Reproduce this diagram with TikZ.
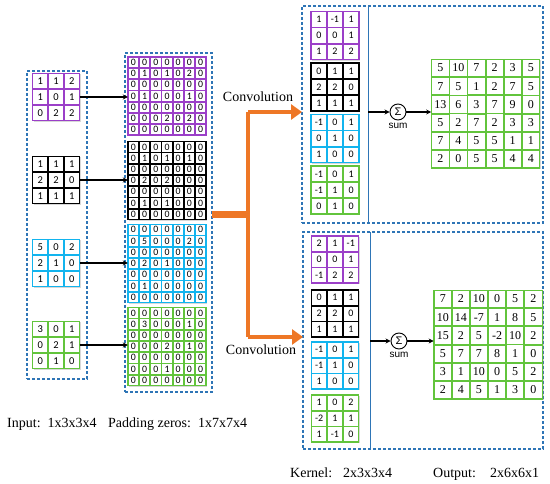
\documentclass[tikz,border=0pt]{standalone}
\usepackage{fontspec}
\setmainfont{Liberation Serif}
\newfontfamily\carlito{Carlito}
\newfontfamily\arialf{Liberation Sans}
\usetikzlibrary{matrix,arrows.meta,shadows}
\definecolor{kpurple}{HTML}{9B3FC8}
\definecolor{kcyan}{HTML}{12B4EE}
\definecolor{kgreen}{HTML}{62C43C}
\definecolor{kblue}{HTML}{2E75B6}
\definecolor{korange}{HTML}{EE7726}
\newcommand\fntin{\carlito\fontsize{10.5}{10.5}\selectfont}
\newcommand\fntpad{\carlito\fontsize{9.8}{9.8}\selectfont}
\newcommand\fntker{\carlito\fontsize{10}{10}\selectfont}
\newcommand\fntout{\fontsize{12}{12}\selectfont}
\tikzset{
  cellgrid/.style n args={3}{matrix of nodes, draw=#1, fill=white, line width=0.8pt,
    inner sep=0pt, outer sep=0pt,
    drop shadow={shadow xshift=1.2pt, shadow yshift=-1.2pt, opacity=0.3},
    nodes={draw=#1, line width=0.8pt, minimum size=#2, inner sep=0pt, outer sep=0pt, font=#3}},
  dashbox/.style={draw=kblue, dash pattern=on 3pt off 2pt, line width=1.1pt, inner sep=0pt, outer sep=0pt},
  divider/.style={draw=kblue, line width=1pt},
  blkarrow/.style={draw=black, line width=1.2pt, -{Stealth[length=5pt,width=5pt]}},
  orangebar/.style={draw=korange, line width=4pt},
  orangearrow/.style={draw=korange, line width=4pt, -{Triangle[length=11pt,width=15pt]}},
  sumc/.style={circle, draw=black, line width=0.9pt, minimum size=16pt, inner sep=0pt, font=\arialf\fontsize{11}{11}\selectfont},
  sumlabel/.style={font=\arialf\fontsize{10}{10}\selectfont, inner sep=2pt, anchor=north},
  lbl/.style={font=\fontsize{14}{14}\selectfont, inner sep=0pt, anchor=base west},
  convlbl/.style={font=\fontsize{14}{14}\selectfont, inner sep=0pt}
}
\begin{document}
\begin{tikzpicture}[x=1pt,y=-1pt]
\useasboundingbox (0,0) rectangle (550,484);
\fill[white] (0,0) rectangle (550,484);

% dashed boxes
\node[dashbox, minimum width=60pt, minimum height=308pt] (inbox) at (57,225) {};
\node[dashbox, minimum width=87pt, minimum height=339pt] (padbox) at (168.5,222.5) {};
\node[dashbox, minimum width=241pt, minimum height=217pt] (kbox1) at (422.5,114.5) {};
\node[dashbox, minimum width=240pt, minimum height=217pt] (kbox2) at (423,340.5) {};
\coordinate (d1) at (368,0);
\coordinate (d2) at (370,0);
\draw[divider] (kbox1.north -| d1) -- (kbox1.south -| d1);
\draw[divider] (kbox2.north -| d2) -- (kbox2.south -| d2);

% input matrices
\matrix (in1) [cellgrid={kpurple}{15pt}{\fntin}] at (56,97) {1&1&2\\1&0&1\\0&2&2\\};
\matrix (in2) [cellgrid={black}{15pt}{\fntin}] at (56,180) {1&1&1\\2&2&0\\1&1&1\\};
\matrix (in3) [cellgrid={kcyan}{15pt}{\fntin}] at (56,263) {5&0&2\\2&1&0\\1&0&0\\};
\matrix (in4) [cellgrid={kgreen}{15pt}{\fntin}] at (56,345) {3&0&1\\0&2&1\\0&1&0\\};

% padded matrices
\matrix (pad1) [cellgrid={kpurple}{10.4pt}{\fntpad}] at (167,96) {
0&0&0&0&0&0&0\\0&1&0&1&0&2&0\\0&0&0&0&0&0&0\\0&1&0&0&0&1&0\\0&0&0&0&0&0&0\\0&0&0&2&0&2&0\\0&0&0&0&0&0&0\\};
\matrix (pad2) [cellgrid={black}{10.4pt}{\fntpad}] at (167,180.5) {
0&0&0&0&0&0&0\\0&1&0&1&0&1&0\\0&0&0&0&0&0&0\\0&2&0&2&0&0&0\\0&0&0&0&0&0&0\\0&1&0&1&0&0&0\\0&0&0&0&0&0&0\\};
\matrix (pad3) [cellgrid={kcyan}{10.4pt}{\fntpad}] at (167,263.5) {
0&0&0&0&0&0&0\\0&5&0&0&0&2&0\\0&0&0&0&0&0&0\\0&2&0&1&0&0&0\\0&0&0&0&0&0&0\\0&1&0&0&0&0&0\\0&0&0&0&0&0&0\\};
\matrix (pad4) [cellgrid={kgreen}{10.4pt}{\fntpad}] at (167,346.5) {
0&0&0&0&0&0&0\\0&3&0&0&0&1&0\\0&0&0&0&0&0&0\\0&0&0&2&0&1&0\\0&0&0&0&0&0&0\\0&0&0&1&0&0&0\\0&0&0&0&0&0&0\\};

\foreach \i in {1,2,3,4}{
  \draw[blkarrow] (in\i.east) -- (in\i.east -| pad\i.west);
}

% orange split arrow
\coordinate (split) at (248,215);
\coordinate (t1) at (248,112);
\coordinate (t2) at (248,337);
\draw[draw=korange, line width=7pt] (padbox.east |- split) -- ([xshift=2pt]split);
\draw[orangebar, line cap=square] (t1) -- (t2);
\draw[orangearrow] (t1) -- (t1 -| kbox1.west);
\draw[orangearrow] (t2) -- (t2 -| kbox2.west);
\node[convlbl] (conv1) at (258,97) {Convolution};
\node[convlbl] (conv2) at (261,350) {Convolution};

% top kernels
\matrix (k11) [cellgrid={kpurple}{15.3pt}{\fntker}] at (335,35.5) {1&-1&1\\0&0&1\\1&2&2\\};
\matrix (k12) [cellgrid={black}{15.3pt}{\fntker}] at (335,87) {0&1&1\\2&2&0\\1&1&1\\};
\matrix (k13) [cellgrid={kcyan}{15.3pt}{\fntker}] at (335,138.5) {-1&0&1\\0&1&0\\1&0&0\\};
\matrix (k14) [cellgrid={kgreen}{15.3pt}{\fntker}] at (335,190) {-1&0&1\\-1&1&0\\0&1&0\\};

% bottom kernels
\matrix (k21) [cellgrid={kpurple}{15pt}{\fntker}] at (335,259.5) {2&1&-1\\0&0&1\\-1&2&2\\};
\matrix (k22) [cellgrid={black}{15pt}{\fntker}] at (335,313.5) {0&1&1\\2&2&0\\1&1&1\\};
\matrix (k23) [cellgrid={kcyan}{15pt}{\fntker}] at (335,365.5) {-1&0&1\\-1&1&0\\1&0&0\\};
\matrix (k24) [cellgrid={kgreen}{15pt}{\fntker}] at (335,418.5) {1&0&2\\-2&1&1\\1&-1&0\\};

% sums and outputs
\node[sumc] (sum1) at (398,112) {Σ};
\node[sumlabel] (sl1) at (sum1.south) {sum};
\node[sumc] (sum2) at (399,341) {Σ};
\node[sumlabel] (sl2) at (sum2.south) {sum};

\matrix (out1) [cellgrid={kgreen}{17.3pt}{\fntout}] at (485.5,113.5) {
5&10&7&2&3&5\\7&5&1&2&7&5\\13&6&3&7&9&0\\5&2&7&2&3&3\\7&4&5&5&1&1\\2&0&5&5&4&4\\};
\matrix (out2) [cellgrid={kgreen}{17.3pt}{\fntout}] at (488,344.5) {
7&2&10&0&5&2\\10&14&-7&1&8&5\\15&2&5&-2&10&2\\5&7&7&8&1&0\\3&1&10&0&5&2\\2&4&5&1&3&0\\};

\coordinate (a1) at (368,112);
\coordinate (a2) at (370,341);
\draw[blkarrow] (a1) -- (sum1);
\draw[blkarrow] (sum1) -- (sum1 -| out1.west);
\draw[blkarrow] (a2) -- (sum2);
\draw[blkarrow] (sum2) -- (sum2 -| out2.west);

% labels
\node[lbl] (l1) at (7,428) {Input:\ \ 1x3x3x4};
\node[lbl] (l2) at (108,428) {Padding zeros:\ \ 1x7x7x4};
\node[lbl] (l3) at (290,478) {Kernel:};
\node[lbl] (l4) at (343,478) {2x3x3x4};
\node[lbl] (l5) at (433,478) {Output:};
\node[lbl] (l6) at (490,478) {2x6x6x1};
\end{tikzpicture}
\end{document}
